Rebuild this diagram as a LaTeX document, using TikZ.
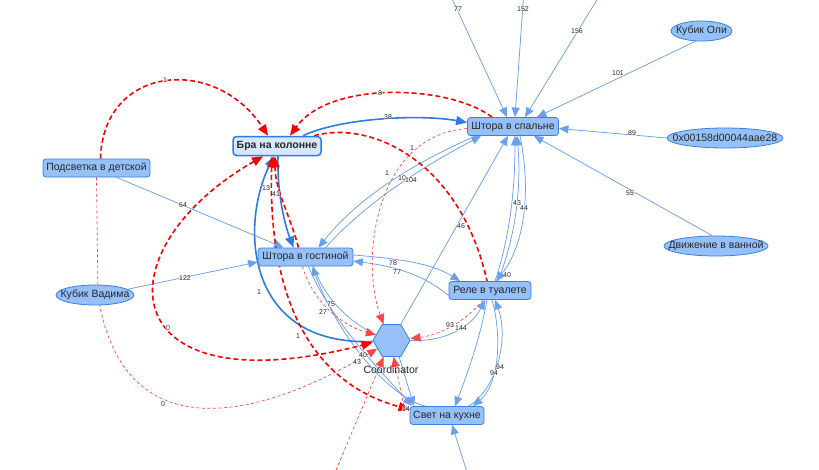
\documentclass[tikz,border=0pt]{standalone}
\usepackage{fontspec}
\setmainfont{Liberation Sans}
\usetikzlibrary{arrows.meta,shapes.geometric}
\pgfdeclarelayer{bg}
\pgfdeclarelayer{edges}
\pgfsetlayers{bg,edges,main}
\definecolor{nfill}{RGB}{150,192,248}
\definecolor{nborder}{RGB}{55,128,228}
\definecolor{bfill}{RGB}{214,231,252}
\definecolor{bborder}{RGB}{45,125,228}
\definecolor{tblue}{RGB}{105,160,240}
\definecolor{kblue}{RGB}{45,125,225}
\definecolor{redk}{RGB}{250,0,0}
\definecolor{redt}{RGB}{255,70,70}
\definecolor{txt}{RGB}{40,40,40}
\newcommand{\gnodefont}{\fontsize{10.5}{12}\selectfont}
\newcommand{\glabfont}{\fontsize{7}{8}\selectfont}
\begin{document}
\begin{tikzpicture}[x=1pt,y=-1pt,
  dev/.style={rectangle, rounded corners=3pt, draw=nborder, fill=nfill, line width=0.8pt, inner sep=0pt, text=txt, font=\gnodefont, minimum height=18pt},
  bra/.style={rectangle, rounded corners=3.5pt, draw=bborder, fill=bfill, line width=1.5pt, inner sep=0pt, text=txt, font=\gnodefont\bfseries, minimum height=19pt, minimum width=88pt},
  ell/.style={ellipse, draw=nborder, fill=nfill, line width=0.8pt, inner sep=0pt, text=txt, font=\gnodefont, minimum height=20pt},
  hexa/.style={regular polygon, regular polygon sides=6, minimum size=37pt, inner sep=0pt, draw=nborder, fill=nfill, line width=0.8pt},
  plain/.style={inner sep=0pt, text=txt, font=\gnodefont},
  lab/.style={inner sep=0.6pt, text=txt, font=\glabfont, fill=white, fill opacity=0.55, text opacity=1},
  tb/.style={draw=tblue, line width=0.75pt, -{Triangle[length=9.5pt,width=8pt]}},
  kb/.style={draw=kblue, line width=1.6pt, -{Triangle[length=11pt,width=9pt]}},
  rt/.style={draw=redk, line width=1.6pt, dash pattern=on 5pt off 3pt, -{Triangle[length=11pt,width=9pt]}},
  rtboth/.style={rt, {Triangle[length=11pt,width=9pt]}-{Triangle[length=11pt,width=9pt]}},
  rd/.style={draw=redt, line width=0.7pt, dash pattern=on 3pt off 2.5pt, -{Triangle[length=10pt,width=8.5pt]}}
]
\begin{pgfonlayer}{bg}
\fill[white] (0,0) rectangle (819,469);
\end{pgfonlayer}
\useasboundingbox (0,0) rectangle (819,469);

% nodes
\node[bra] (bra) at (277,146) {Бра на колонне};
\node[dev, minimum width=91pt] (spal) at (513,126.5) {Штора в спальне};
\node[dev, minimum width=107pt] (podsv) at (96.5,168) {Подсветка в детской};
\node[dev, minimum width=95pt] (gost) at (305.5,257) {Штора в гостиной};
\node[dev, minimum width=82pt] (rele) at (490,290.5) {Реле в туалете};
\node[dev, minimum width=74pt] (svet) at (447,415.5) {Свет на кухне};
\node[ell, minimum width=78pt] (vadim) at (95,295) {\makebox[0pt]{Кубик Вадима}};
\node[ell, minimum width=61pt] (oli) at (701.5,31) {\makebox[0pt]{Кубик Оли}};
\node[ell, minimum width=116pt] (hexid) at (725,138) {\makebox[0pt]{0x00158d00044aae28}};
\node[ell, minimum width=104pt] (dvizh) at (716,246) {\makebox[0pt]{Движение в ванной}};
\node[hexa] (coord) at (391.5,340.5) {};
\node[plain] (coordlab) at (391,370) {Coordinator};

\coordinate (o77) at (448,-10);
\coordinate (o152) at (524,-10);
\coordinate (o156) at (603,-10);
\coordinate (obot) at (468,475);
\coordinate (ored) at (334,475);

\begin{pgfonlayer}{edges}
% edges from outside / ellipses
\draw[tb] (o77) -- ([xshift=-6pt]spal.north);
\draw[tb] (o152) -- ([xshift=2pt]spal.north);
\draw[tb] (o156) -- ([xshift=12pt]spal.north);
\draw[tb] (oli.-120) -- ([xshift=-22pt]spal.north east);
\draw[tb] (hexid.west) -- ([yshift=-2pt]spal.east);
\draw[tb] (dvizh.110) -- ([xshift=-25pt]spal.south east);
\draw[tb] (obot) -- ([xshift=5pt]svet.south);
\draw[rd] (ored) -- ([xshift=-8pt]coord.south);

% thin blue
\draw[tb] ([xshift=20pt]podsv.south) -- ([xshift=-22pt]gost.north);
\draw[tb] (vadim.10) -- ([yshift=-5pt]gost.west);
\draw[tb] ([xshift=-37pt]spal.south) .. controls (420,160) and (360,195) .. ([xshift=13pt]gost.north);
\draw[tb] ([xshift=20pt]gost.north) .. controls (368,200) and (428,164) .. ([xshift=-32pt]spal.south);
\draw[tb] ([yshift=2pt]gost.east) .. controls (390,258) and (430,262) .. ([xshift=-30pt]rele.north);
\draw[tb] ([yshift=-5pt]rele.west) .. controls (420,272) and (390,266) .. ([yshift=-4pt]gost.east);
\draw[tb] (coord.60) -- ([xshift=-5pt]spal.south);
\draw[tb] ([xshift=5pt]rele.north) .. controls (512,230) and (515,180) .. ([xshift=2pt]spal.south);
\draw[tb] ([xshift=8pt]rele.north) .. controls (518,230) and (521,180) .. ([xshift=4pt]spal.south);
\draw[tb] ([xshift=7pt]spal.south) .. controls (533,200) and (521,250) .. ([xshift=6pt]rele.north);
\draw[tb,-] ([xshift=8pt]gost.south) .. controls (325,300) and (350,322) .. (coord.160);
\draw[tb] (coord.east) .. controls (440,342) and (470,330) .. ([xshift=-5pt]rele.south);
\draw[tb] ([xshift=22pt]svet.north) .. controls (500,385) and (508,335) .. ([xshift=5pt]rele.south);
\draw[tb] ([xshift=2pt]rele.south) .. controls (503,340) and (498,385) .. ([xshift=26pt]svet.north);
\draw[tb] ([xshift=-3pt]rele.south) .. controls (480,340) and (465,380) .. ([xshift=8pt]svet.north);
\draw[tb] (coord.-65) -- ([xshift=-33pt]svet.north);
\draw[tb] ([xshift=3pt]gost.south) .. controls (330,320) and (380,370) .. ([xshift=-35pt]svet.north);
\draw[tb] ([xshift=-22pt]svet.north) .. controls (385,395) and (335,330) .. ([xshift=7pt]gost.south);

% thin red
\draw[rd] ([yshift=-2pt]spal.west) .. controls (375,135) and (360,260) .. ([xshift=-8pt]coord.north);
\draw[rd] ([xshift=-3pt]gost.south) .. controls (312,300) and (340,325) .. (coord.160);
\draw[rd] (podsv.south) -- ([xshift=3pt]vadim.center) .. controls (120,440) and (240,430) .. (coord.-150);
\draw[rd] ([xshift=-43pt]svet.north) -- ([xshift=2pt]coord.south);
\draw[rd] ([xshift=-7pt]rele.south) .. controls (465,322) and (440,335) .. ([yshift=2pt]coord.east);

% thick blue
\draw[kb] ([xshift=26pt]bra.north) .. controls (340,118) and (420,114) .. ([yshift=4pt]spal.west);
\draw[kb] ([yshift=-1pt]coord.west) .. controls (245,346) and (240,225) .. ([xshift=-3pt]bra.south);
\draw[kb] ([xshift=1pt]bra.south) .. controls (277,195) and (285,225) .. ([xshift=-12pt]gost.north);

% thick red
\draw[rt] ([xshift=4pt]podsv.north) .. controls (103,65) and (215,55) .. ([xshift=-9pt]bra.north);
\draw[rt] ([xshift=-21pt]spal.north) .. controls (450,85) and (330,80) .. ([xshift=13pt]bra.north);
\draw[rt,-] ([xshift=37pt]bra.north) .. controls (370,120) and (460,160) .. ([xshift=-3pt]rele.north);
\draw[rtboth] ([xshift=-14pt]bra.south) .. controls (100,250) and (110,410) .. ([yshift=-2pt]coord.west);
\draw[rtboth] ([xshift=-5pt]bra.south) .. controls (268,280) and (300,380) .. ([yshift=6pt]svet.west);
\draw[rt] ([xshift=-7pt]gost.north) .. controls (290,215) and (275,190) .. ([xshift=-2pt]bra.south);
\end{pgfonlayer}

% labels
\node[lab] (l01) at (165,80) {1};
\node[lab] (l02) at (380,93) {8};
\node[lab] (l03) at (388,117) {38};
\node[lab] (l04) at (412,148) {1};
\node[lab] (l05) at (387,173) {1};
\node[lab] (l06) at (402,178) {10};
\node[lab] (l07) at (411,180) {104};
\node[lab] (l08) at (266,188) {13};
\node[lab] (l09) at (276,194) {41};
\node[lab] (l10) at (183,205) {64};
\node[lab] (l11) at (461,226) {46};
\node[lab] (l12) at (517,203) {43};
\node[lab] (l13) at (524,208) {44};
\node[lab] (l14) at (507,275) {40};
\node[lab] (l15) at (393,263) {78};
\node[lab] (l16) at (397,272) {77};
\node[lab] (l17) at (185,278) {122};
\node[lab] (l18) at (259,292) {1};
\node[lab] (l19) at (331,304) {75};
\node[lab] (l20) at (323,312) {27};
\node[lab] (l21) at (168,328) {0};
\node[lab] (l22) at (298,336) {1};
\node[lab] (l23) at (450,325) {93};
\node[lab] (l24) at (461,328) {144};
\node[lab] (l25) at (363,355) {40};
\node[lab] (l26) at (357,362) {43};
\node[lab] (l27) at (163,404) {0};
\node[lab] (l28) at (406,409) {14};
\node[lab] (l29) at (500,367) {94};
\node[lab] (l30) at (494,373) {94};
\node[lab] (l31) at (458,9) {77};
\node[lab] (l32) at (523,9) {152};
\node[lab] (l33) at (577,31) {156};
\node[lab] (l34) at (618,73) {101};
\node[lab] (l35) at (632,133) {89};
\node[lab] (l36) at (630,193) {55};
\end{tikzpicture}
\end{document}
